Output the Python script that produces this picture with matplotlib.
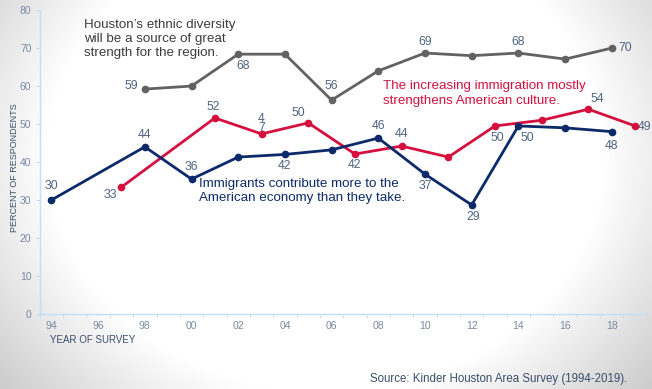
import numpy as np
import matplotlib.pyplot as plt
from matplotlib.ticker import MultipleLocator, FixedLocator

plt.rcParams['font.family'] = ['Liberation Sans', 'DejaVu Sans']

# survey years and percent agreeing
years_econ = [1994, 1998, 2000, 2002, 2004, 2006, 2008, 2010, 2012, 2014, 2016, 2018]
econ = [30, 44, 35.5, 41.3, 42, 43.2, 46.3, 36.8, 28.7, 49.5, 49, 48]

years_culture = [1997, 2001, 2003, 2005, 2007, 2009, 2011, 2013, 2015, 2017, 2019]
culture = [33.4, 51.6, 47.4, 50.3, 42.1, 44.2, 41.3, 49.5, 51, 53.9, 49.5]

years_div = [1998, 2000, 2002, 2004, 2006, 2008, 2010, 2012, 2014, 2016, 2018]
diversity = [59.2, 60, 68.4, 68.4, 56.3, 64, 68.7, 68, 68.7, 67.1, 70]

# value labels: (year, value, text, dx, dy, ha)
econ_labels = [(1994, 30, "30", 0, 10, "center"), (1998, 44, "44", 0, 8.6, "center"),
               (2000, 35.5, "36", 0, 9, "center"), (2004, 42, "42", 0, -8, "center"),
               (2008, 46.3, "46", 0, 8.6, "center"), (2010, 36.8, "37", 0, -8.6, "center"),
               (2012, 28.7, "29", 1, -8.6, "center"), (2014, 49.5, "50", 6.5, -8.6, "center"),
               (2018, 48, "48", 0, -10.5, "center")]
culture_labels = [(1997, 33.4, "33", -8, -5.8, "center"), (2001, 51.6, "52", -1, 8, "center"),
                  (2003, 47.4, "4\n7", 0, 7.5, "center"), (2005, 50.3, "50", -7, 7, "center"),
                  (2007, 42.1, "42", 0, -8, "center"), (2009, 44.2, "44", 0, 9, "center"),
                  (2013, 49.5, "50", 2, -8.6, "center"), (2017, 53.9, "54", 6, 7.2, "center"),
                  (2019, 49.5, "49", 1.8, -0.5, "left")]
div_labels = [(1998, 59.2, "59", -5, 2, "right"), (2002, 68.4, "68", 3.6, -8.6, "center"),
              (2006, 56.3, "56", 0, 10, "center"), (2010, 68.7, "69", 0, 8, "center"),
              (2014, 68.7, "68", 0, 8, "center"), (2018, 70, "70", 5, 0, "left")]

navy = "#0c2a6a"
red = "#d6103e"
gray = "#626262"
label_col = "#4f6482"
tick_col = "#7a8aa2"
spine_col = "#bfe0f6"

fig = plt.figure(figsize=(6.52, 3.89), dpi=100)

# soft vignette behind everything, darker toward the sides and bottom
bg = fig.add_axes([0, 0, 1, 1], zorder=-10)
u, v = np.meshgrid(np.linspace(-1, 1, 400), np.linspace(-1, 1, 240))
d = np.sqrt(u**2 + (0.7 * (v + 0.2))**2)
shade = 1 - 0.2 * np.clip((d - 0.85) / 0.45, 0, 1)
bg.imshow(shade, cmap="gray", vmin=0, vmax=1, aspect="auto", extent=[0, 1, 0, 1])
bg.axis("off")

ax = fig.add_axes([0.061, 0.193, 0.931, 0.781])
ax.patch.set_alpha(0)

ax.plot(years_div, diversity, color=gray, lw=2.0, marker="o", ms=4.5, zorder=3)
ax.plot(years_culture, culture, color=red, lw=2.0, marker="o", ms=4.5, zorder=4)
ax.plot(years_econ, econ, color=navy, lw=2.0, marker="o", ms=4.5, zorder=5)

for labels in (econ_labels, culture_labels, div_labels):
    for x, y, t, dx, dy, ha in labels:
        ax.annotate(t, (x, y), xytext=(dx, dy), textcoords="offset points",
                    ha=ha, va="center", fontsize=8.8, color=label_col,
                    linespacing=0.75, annotation_clip=False)

ax.text(1995.4, 77.6, "Houston\u2019s ethnic diversity\nwill be a source of great\nstrength for the region.",
        fontsize=9.6, color="#3c3c3c", va="top", ha="left", linespacing=1.2)
ax.text(2008.2, 61.5, "The increasing immigration mostly\nstrengthens American culture.",
        fontsize=9.6, color=red, va="top", ha="left", linespacing=1.3)
ax.text(2000.3, 35.7, "Immigrants contribute more to the\nAmerican economy than they take.",
        fontsize=9.6, color=navy, va="top", ha="left", linespacing=1.15)

ax.set_xlim(1993.5, 2019.5)
ax.set_ylim(0, 80)
ax.yaxis.set_major_locator(MultipleLocator(10))
ax.xaxis.set_major_locator(FixedLocator(list(range(1994, 2019, 2))))
ax.set_xticklabels([f"{y % 100:02d}" for y in range(1994, 2019, 2)])
ax.xaxis.set_minor_locator(FixedLocator(list(np.arange(1993.5, 2020, 1))))
ax.tick_params(axis="x", which="major", length=0, pad=5, labelsize=7.5, labelcolor=tick_col)
ax.tick_params(axis="x", which="minor", length=3, color=spine_col, direction="out")
ax.tick_params(axis="y", length=3, color=spine_col, labelsize=7.5, labelcolor=tick_col, pad=3)

for side in ("top", "right"):
    ax.spines[side].set_visible(False)
for side in ("left", "bottom"):
    ax.spines[side].set_color(spine_col)
    ax.spines[side].set_linewidth(1)

fig.text(0.022, 0.57, "PERCENT OF RESPONDENTS", rotation=90, ha="center", va="center",
         fontsize=6.5, color="#3a4f6a")
fig.text(0.076, 0.126, "YEAR OF SURVEY", ha="left", va="center", fontsize=7, color="#3a4f6a")
fig.text(0.962, 0.025, "Source: Kinder Houston Area Survey (1994-2019).", ha="right", va="center",
         fontsize=8.3, color="#3a4f6a")

fig.savefig("out.png", dpi=100)
